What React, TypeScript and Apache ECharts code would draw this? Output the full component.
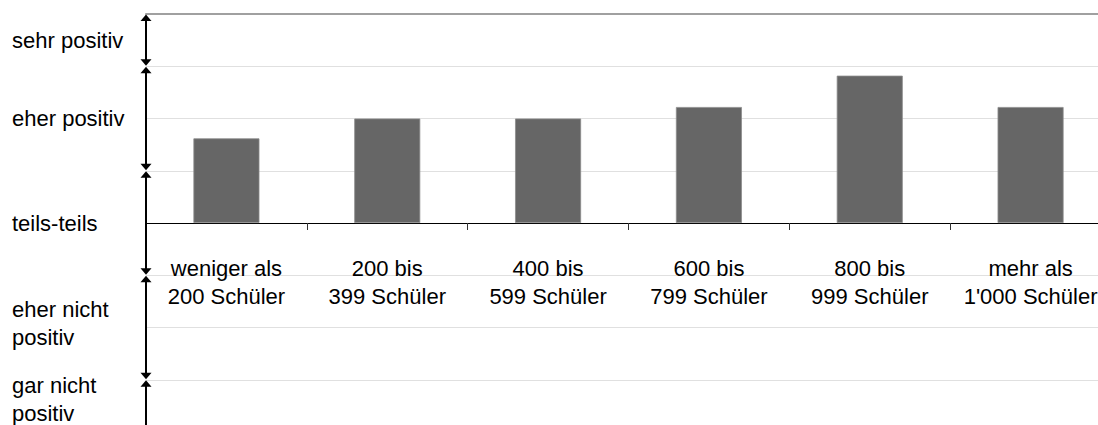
import React, { useEffect, useRef } from "react";
import * as echarts from "echarts";

// School size groups (x axis)
const categories = [
  "weniger als\n200 Schüler",
  "200 bis\n399 Schüler",
  "400 bis\n599 Schüler",
  "600 bis\n799 Schüler",
  "800 bis\n999 Schüler",
  "mehr als\n1'000 Schüler",
];

// Mean rating per group (0 = teils-teils, +2 = sehr positiv, -2 = gar nicht positiv)
const ratings = [0.81, 1.0, 1.0, 1.11, 1.41, 1.11];

// Rating scale: label texts and where they sit on the value axis
const scaleLabelTexts = [
  "sehr positiv",
  "eher positiv",
  "teils-teils",
  "eher nicht\npositiv",
  "gar nicht\npositiv",
];
const scaleLabelValues = [1.75, 1, 0, -0.96, -1.69];

// Boundaries between the rating bands (double arrows on the left axis)
const scaleBounds = [2, 1.5, 0.5, -0.5, -1.5, -2];

const FONT = "'Liberation Sans', Arial, Helvetica, sans-serif";
const GRID_TOP = 14;
const GRID_HEIGHT = 418;
const Y_MIN = -2;
const Y_MAX = 2;
// shift the category axis from the grid bottom up to the zero line
const ZERO_OFFSET = -(GRID_HEIGHT * (0 - Y_MIN)) / (Y_MAX - Y_MIN);

export default function App() {
  const ref = useRef<HTMLDivElement>(null);

  useEffect(() => {
    if (!ref.current) return;
    const chart = echarts.init(ref.current, null, { renderer: "svg" });

    const bandData = scaleBounds
      .slice(0, -1)
      .map((b, i) => [0, b, scaleBounds[i + 1]]);

    chart.setOption({
      animation: false,
      backgroundColor: "#ffffff",
      grid: {
        left: 146,
        top: GRID_TOP,
        width: 965,
        height: GRID_HEIGHT,
        containLabel: false,
        outerBoundsMode: "none",
      },
      xAxis: [
        {
          type: "category",
          data: categories,
          position: "bottom",
          offset: ZERO_OFFSET,
          axisLine: { show: true, onZero: false, lineStyle: { color: "#000", width: 1 } },
          axisTick: {
            show: true,
            inside: false,
            length: 7,
            lineStyle: { color: "#333", width: 1 },
          },
          axisLabel: {
            interval: 0,
            margin: 31,
            fontSize: 22,
            lineHeight: 28,
            color: "#000",
            fontFamily: FONT,
            align: "center",
            hideOverlap: false,
          },
          splitLine: { show: false },
        },
        {
          type: "category",
          data: categories,
          position: "top",
          axisLine: { show: true, onZero: false, lineStyle: { color: "#a0a0a0", width: 2 } },
          axisTick: { show: false },
          axisLabel: { show: false },
          splitLine: { show: false },
        },
      ],
      yAxis: {
        type: "value",
        min: Y_MIN,
        max: Y_MAX,
        interval: 0.5,
        axisLine: { show: false },
        axisTick: { show: false },
        splitLine: { show: true, lineStyle: { color: "#e0e0e0", width: 1 } },
        axisLabel: {
          customValues: scaleLabelValues,
          formatter: (v: number) => {
            const i = scaleLabelValues.findIndex((s) => Math.abs(s - v) < 1e-6);
            return i >= 0 ? scaleLabelTexts[i] : "";
          },
          align: "left",
          margin: 134,
          fontSize: 22,
          lineHeight: 28,
          color: "#000",
          fontFamily: FONT,
        },
      },
      series: [
        {
          type: "bar",
          data: ratings,
          barWidth: 66,
          itemStyle: { color: "#666666", borderColor: "#8c8c8c", borderWidth: 0.8 },
          z: 2,
        },
        {
          type: "custom",
          data: bandData,
          encode: { x: 0, y: [1, 2] },
          clip: false,
          silent: true,
          z: 10,
          renderItem: (params: any, api: any) => {
            const x = params.coordSys.x;
            const yTop = api.coord([0, api.value(1)])[1] + 0.5;
            const yBot = api.coord([0, api.value(2)])[1] - 0.5;
            const hw = 5.5;
            const ah = 6.5;
            return {
              type: "group",
              children: [
                {
                  type: "line",
                  shape: { x1: x, y1: yTop + 2, x2: x, y2: yBot - 2 },
                  style: { stroke: "#000", lineWidth: 2 },
                },
                {
                  type: "polygon",
                  shape: { points: [[x, yTop], [x - hw, yTop + ah], [x + hw, yTop + ah]] },
                  style: { fill: "#000" },
                },
                {
                  type: "polygon",
                  shape: { points: [[x, yBot], [x - hw, yBot - ah], [x + hw, yBot - ah]] },
                  style: { fill: "#000" },
                },
              ],
            };
          },
        },
      ],
    });

    return () => chart.dispose();
  }, []);

  return (
    <div
      ref={ref}
      style={{ position: "absolute", left: 0, top: 0, width: 1098, height: 425 }}
    />
  );
}
